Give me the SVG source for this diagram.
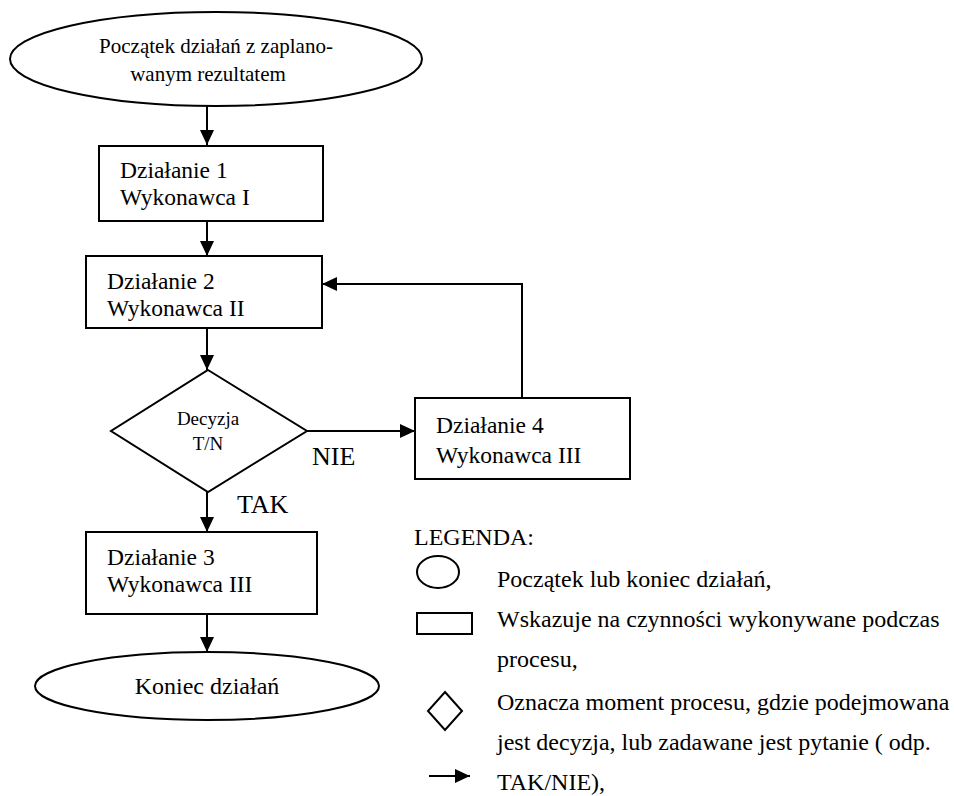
<svg xmlns="http://www.w3.org/2000/svg" width="954" height="796" viewBox="0 0 954 796">
<style>
.s{fill:#fff;stroke:#000;stroke-width:2}
.c{fill:none;stroke:#000;stroke-width:2}
text{font-family:"Liberation Serif","Times New Roman",serif;fill:#000}
.b{font-size:23.5px}
.l{font-size:24px}
</style>
<defs>
<marker id="ah" markerUnits="userSpaceOnUse" markerWidth="16" markerHeight="14" refX="15" refY="7" orient="auto">
<path d="M0,0 L15,7 L0,14 Z" fill="#000"/>
</marker>
</defs>
<rect width="954" height="796" fill="#fff"/>
<g id="connectors">
<line class="c" x1="207" y1="106" x2="207" y2="145" marker-end="url(#ah)"/>
<line class="c" x1="207" y1="221" x2="207" y2="256" marker-end="url(#ah)"/>
<line class="c" x1="207" y1="328" x2="207" y2="370" marker-end="url(#ah)"/>
<line class="c" x1="307" y1="431" x2="415" y2="431" marker-end="url(#ah)"/>
<polyline class="c" points="522,398 522,284 322,284" marker-end="url(#ah)"/>
<line class="c" x1="207" y1="492" x2="207" y2="532" marker-end="url(#ah)"/>
<line class="c" x1="207" y1="614" x2="207" y2="652" marker-end="url(#ah)"/>
<text x="312" y="465" style="font-size:26px">NIE</text>
<text x="237" y="513" style="font-size:26px">TAK</text>
</g>
<g id="start">
<ellipse class="s" cx="216" cy="59" rx="206" ry="47"/>
<text x="216" y="53" text-anchor="middle" style="font-size:21px">Początek działań z zaplano-</text>
<text x="208" y="81" text-anchor="middle" style="font-size:21px">wanym rezultatem</text>
</g>
<g id="action1">
<rect class="s" x="99" y="146" width="224" height="75"/>
<text class="b" x="120" y="178">Działanie 1</text>
<text class="b" x="120" y="205">Wykonawca I</text>
</g>
<g id="action2">
<rect class="s" x="86" y="256" width="236" height="72"/>
<text class="b" x="107" y="289">Działanie 2</text>
<text class="b" x="107" y="316">Wykonawca II</text>
</g>
<g id="decision">
<polygon class="s" points="208,370 307,431 208,492 111,431"/>
<text x="208" y="425" text-anchor="middle" style="font-size:19px">Decyzja</text>
<text x="208" y="450" text-anchor="middle" style="font-size:19px">T/N</text>
</g>
<g id="action4">
<rect class="s" x="415" y="398" width="215" height="81"/>
<text class="b" x="436" y="433">Działanie 4</text>
<text class="b" x="436" y="463">Wykonawca III</text>
</g>
<g id="action3">
<rect class="s" x="86" y="532" width="231" height="82"/>
<text class="b" x="107" y="565">Działanie 3</text>
<text class="b" x="107" y="592">Wykonawca III</text>
</g>
<g id="end">
<ellipse class="s" cx="207" cy="686" rx="172" ry="34"/>
<text x="207" y="694" text-anchor="middle" style="font-size:24px">Koniec działań</text>
</g>
<g id="legend">
<text class="l" x="414" y="545">LEGENDA:</text>
<ellipse class="s" cx="438" cy="572" rx="21" ry="16"/>
<text class="l" x="497" y="587">Początek lub koniec działań,</text>
<rect class="s" x="417" y="613" width="55" height="21"/>
<text class="l" x="497" y="627">Wskazuje na czynności wykonywane podczas</text>
<text class="l" x="497" y="667">procesu,</text>
<polygon class="s" points="445,692 462,711 445,730 428,711"/>
<text class="l" x="497" y="710">Oznacza moment procesu, gdzie podejmowana</text>
<text class="l" x="497" y="750">jest decyzja, lub zadawane jest pytanie ( odp.</text>
<line class="c" x1="429" y1="776" x2="470" y2="776" marker-end="url(#ah)"/>
<text class="l" x="497" y="790">TAK/NIE),</text>
</g>
</svg>
